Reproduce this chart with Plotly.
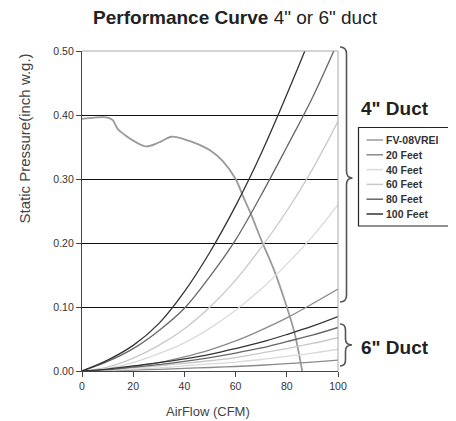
import plotly.graph_objects as go

# ---- data ----
airflow = [0, 10, 20, 30, 40, 50, 60, 70, 80, 90, 100]

fan_x = [0, 5, 10, 12, 14, 17, 20, 25, 30, 35, 40, 45, 50, 55, 60, 63, 66, 70, 75, 80, 83, 86]
fan_y = [0.394, 0.396, 0.396, 0.392, 0.378, 0.368, 0.360, 0.351, 0.357, 0.366, 0.362,
         0.355, 0.345, 0.328, 0.300, 0.272, 0.245, 0.205, 0.158, 0.100, 0.060, 0.0]

duct4_20 = [0, 0.002, 0.007, 0.013, 0.022, 0.033, 0.047, 0.064, 0.083, 0.105, 0.128]
duct4_40 = [0, 0.004, 0.013, 0.027, 0.044, 0.067, 0.095, 0.128, 0.167, 0.210, 0.260]
duct4_60 = [0, 0.006, 0.020, 0.040, 0.066, 0.100, 0.142, 0.193, 0.250, 0.315, 0.390]
duct4_80 = [0, 0.015, 0.035, 0.063, 0.098, 0.148, 0.205, 0.275, 0.350, 0.427, 0.515]
duct4_100 = [0, 0.017, 0.040, 0.074, 0.124, 0.186, 0.258, 0.340, 0.432, 0.530, 0.640]

duct6_20 = [0, 0.0005, 0.0015, 0.0025, 0.004, 0.0055, 0.007, 0.009, 0.0115, 0.014, 0.017]
duct6_40 = [0, 0.001, 0.003, 0.005, 0.008, 0.011, 0.014, 0.018, 0.023, 0.028, 0.034]
duct6_60 = [0, 0.002, 0.005, 0.008, 0.012, 0.016, 0.021, 0.028, 0.035, 0.043, 0.052]
duct6_80 = [0, 0.002, 0.006, 0.010, 0.015, 0.021, 0.028, 0.036, 0.046, 0.056, 0.068]
duct6_100 = [0, 0.003, 0.008, 0.013, 0.019, 0.026, 0.035, 0.045, 0.057, 0.070, 0.085]

fan_name = "FV-08VREI"
names = ["20 Feet", "40 Feet", "60 Feet", "80 Feet", "100 Feet"]
fan_color = "#9a9a9a"
colors = ["#8a8a8a", "#dadada", "#c8c8c8", "#666666", "#333333"]
y_ticks = [0.0, 0.1, 0.2, 0.3, 0.4, 0.5]
x_ticks = [0, 20, 40, 60, 80, 100]

# ---- geometry (page pixels; the figure sits 8px in from the page corner) ----
OFF = 8
W, H = 456 - OFF, 421 - OFF
L, R, T, B = 82, 338, 51, 371
def px(x):
    return (x - L) / (R - L)
def py(y):
    return (B - y) / (B - T)

fig = go.Figure()

fig.add_trace(go.Scatter(x=fan_x, y=fan_y, mode="lines", name=fan_name,
                         line=dict(color=fan_color, width=1.8, shape="spline")))

d4 = [duct4_20, duct4_40, duct4_60, duct4_80, duct4_100]
d6 = [duct6_20, duct6_40, duct6_60, duct6_80, duct6_100]
for n, c, v4, v6 in zip(names, colors, d4, d6):
    fig.add_trace(go.Scatter(x=airflow, y=v4, mode="lines", name='4" ' + n,
                             line=dict(color=c, width=1.3, shape="spline")))
    fig.add_trace(go.Scatter(x=airflow, y=v6, mode="lines", name='6" ' + n,
                             line=dict(color=c, width=1.3, shape="spline")))

font_main = "Liberation Sans, Arial, sans-serif"

def brace(top, bottom, mid, xv, xe, xt, r):
    t, b, m = py(top), py(bottom), py(mid)
    rr = r / (B - T)
    X0, XV, XT = px(xe), px(xv), px(xt)
    return (f"M {X0},{t} Q {XV},{t} {XV},{t-rr} L {XV},{m+rr} "
            f"Q {XV},{m} {XT},{m} Q {XV},{m} {XV},{m-rr} "
            f"L {XV},{b+rr} Q {XV},{b} {X0},{b}")

shapes = [
    dict(type="line", xref="paper", yref="paper", x0=0, x1=1, y0=1, y1=1,
         line=dict(color="#a8a8a8", width=1), layer="above"),
    dict(type="line", xref="paper", yref="paper", x0=1, x1=1, y0=0, y1=1,
         line=dict(color="#a8a8a8", width=1), layer="above"),
    dict(type="path", xref="paper", yref="paper",
         path=brace(47, 302, 178, 346.5, 340, 352.5, 7),
         line=dict(color="#555555", width=1.6)),
    dict(type="path", xref="paper", yref="paper",
         path=brace(324, 366, 345, 345.5, 340, 352, 6),
         line=dict(color="#555555", width=1.6)),
    # legend box
    dict(type="rect", xref="paper", yref="paper",
         x0=px(358.5), x1=px(451.5), y0=py(127.5), y1=py(226),
         line=dict(color="#222222", width=1.2), fillcolor="white"),
]

annotations = [
    dict(text="Static Pressure(inch w.g.)", xref="paper", yref="paper",
         x=px(23.5), y=py(139), textangle=-90, showarrow=False,
         font=dict(family=font_main, size=15, color="#444444"),
         xanchor="center", yanchor="middle"),
    dict(text="AirFlow (CFM)", xref="paper", yref="paper",
         x=px(208), y=py(411), showarrow=False,
         font=dict(family=font_main, size=13, color="#444444"),
         xanchor="center", yanchor="middle"),
    dict(text="<b>4\" Duct</b>", xref="paper", yref="paper",
         x=px(359), y=py(108), showarrow=False, xanchor="left", yanchor="middle",
         font=dict(family=font_main, size=19, color="#222222")),
    dict(text="<b>6\" Duct</b>", xref="paper", yref="paper",
         x=px(359), y=py(347), showarrow=False, xanchor="left", yanchor="middle",
         font=dict(family=font_main, size=19, color="#222222")),
]

# hand-drawn legend (rows ~14.8px apart, as in the reference)
leg_names = [fan_name] + names
leg_colors = [fan_color] + colors
for i, (n, c) in enumerate(zip(leg_names, leg_colors)):
    yy = 140 + i * 14.8
    shapes.append(dict(type="line", xref="paper", yref="paper",
                       x0=px(366.5), x1=px(383), y0=py(yy), y1=py(yy),
                       line=dict(color=c, width=1.5)))
    annotations.append(dict(text=n, xref="paper", yref="paper",
                            x=px(383.5), y=py(yy), showarrow=False,
                            xanchor="left", yanchor="middle",
                            font=dict(family=font_main, size=10.5, color="#333333",
                                      weight="bold")))

fig.update_layout(
    width=W, height=H,
    margin=dict(l=L - OFF, r=W - (R - OFF), t=T - OFF, b=H - (B - OFF), pad=0),
    paper_bgcolor="white", plot_bgcolor="white",
    title=dict(text="<b>Performance Curve</b> 4\" or 6\" duct",
               x=(235 - OFF) / W, xanchor="center", y=1 - (17 - OFF) / H,
               yanchor="middle",
               font=dict(family=font_main, size=19, color="#222222")),
    xaxis=dict(range=[0, 100], tickvals=x_ticks, showgrid=False, zeroline=False,
               showline=True, linecolor="#444444", linewidth=1.3,
               ticks="outside", ticklen=5, tickcolor="#444444",
               tickfont=dict(family=font_main, size=10.5, color="#333333")),
    yaxis=dict(range=[0, 0.5], tickvals=y_ticks, tickformat=".2f",
               showgrid=True, gridcolor="#111111", gridwidth=1.1, zeroline=False,
               showline=True, linecolor="#444444", linewidth=1.3,
               ticks="outside", ticklen=5, tickcolor="#444444",
               tickfont=dict(family=font_main, size=10.5, color="#333333")),
    shapes=shapes,
    annotations=annotations,
    showlegend=False,
)

fig.write_html("out.html")
